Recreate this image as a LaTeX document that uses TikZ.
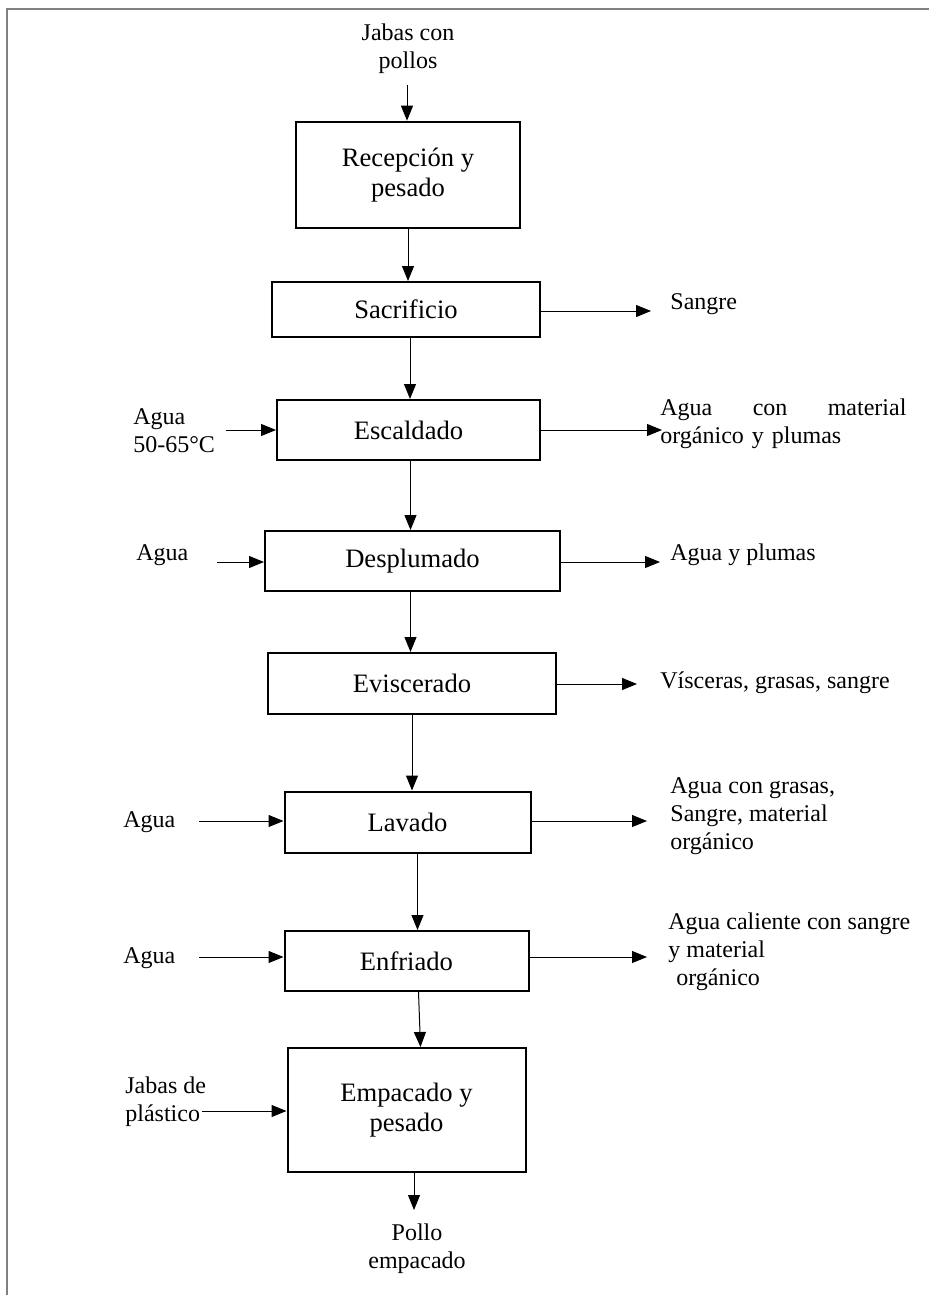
\documentclass[tikz,border=0pt]{standalone}
\usepackage{fontspec}
\setmainfont{Liberation Serif}
\usetikzlibrary{arrows.meta}

\tikzset{
  proc/.style={draw, line width=1pt, inner sep=2pt, align=center, font=\fontsize{13.3}{15}\selectfont},
  lbl/.style={inner sep=0pt, align=left, font=\fontsize{12}{14}\selectfont},
  flow/.style={line width=0.5pt, -{Triangle[length=7.5pt,width=6pt]}}
}

\begin{document}
\begin{tikzpicture}[x=0.5pt,y=-0.5pt]
	\useasboundingbox (0,0) rectangle (928,1295);
	%Frame
	\draw [gray, line width=1pt] (7,1300) -- (7,9) -- (930,9) ;

	%Process boxes
	\node [proc, line width=1.3pt, minimum width=112pt, minimum height=53pt] (rec) at (408,175) {Recepción y\\pesado};
	\node [proc, minimum width=134pt, minimum height=27.5pt] (sac) at (406,309.5) {Sacrificio};
	\node [proc, minimum width=131.5pt, minimum height=30pt] (esc) at (408.5,430) {Escaldado};
	\node [proc, minimum width=147.5pt, minimum height=30pt] (desp) at (412.5,561) {Desplumado};
	\node [proc, minimum width=144pt, minimum height=30.5pt] (evis) at (412,683.5) {Eviscerado};
	\node [proc, minimum width=123pt, minimum height=30.5pt] (lav) at (407.5,822) {Lavado};
	\node [proc, minimum width=122pt, minimum height=30pt] (enf) at (406.5,961) {Enfriado};
	\node [proc, minimum width=119pt, minimum height=62pt] (emp) at (406.5,1110) {Empacado y\\pesado};

	% Text Node
	\node [lbl, align=center] (jabas) at (408,49) {Jabas con\\pollos};
	\node [lbl, align=center] (pollo) at (417,1249) {Pollo\\empacado};
	\node [lbl, anchor=west] (aguaEsc) at (133,431) {Agua\\50-65°C};
	\node [lbl, anchor=west] (aguaDesp) at (136,555) {Agua};
	\node [lbl, anchor=west] (aguaLav) at (123,822) {Agua};
	\node [lbl, anchor=west] (aguaEnf) at (123,958) {Agua};
	\node [lbl, anchor=west] (jabasPl) at (125,1102) {Jabas de\\plástico};
	\node [lbl, anchor=west] (sangre) at (670,304) {Sangre};
	\node [lbl, anchor=west, text width=123pt] (resEsc) at (660,424) {Agua\hfill con\hfill material\\orgánico y plumas};
	\node [lbl, anchor=west] (resDesp) at (670,555) {Agua y plumas};
	\node [lbl, anchor=west] (resEvis) at (660,683) {Vísceras, grasas, sangre};
	\node [lbl, anchor=west] (resLav) at (670,816) {Agua con grasas,\\Sangre, material\\orgánico};
	\node [lbl, anchor=west] (resEnf) at (668,952) {Agua caliente con sangre\\y material\\\hspace*{4pt}orgánico};

	%Free ends
	\coordinate (inTop) at (407,85);
	\coordinate (outBot) at (414,1210);
	\coordinate (inEsc) at (226,430);
	\coordinate (inDesp) at (217,562);
	\coordinate (inLav) at (199,821);
	\coordinate (inEnf) at (199,957);
	\coordinate (inEmp) at (202,1111);
	\coordinate (outSac) at (651,311);
	\coordinate (outEsc) at (662,430);
	\coordinate (outDesp) at (660,562);
	\coordinate (outEvis) at (637,684);
	\coordinate (outLav) at (647,821);
	\coordinate (outEnf) at (647,957);

	%Main flow
	\draw [flow] (inTop) -- (inTop |- rec.north) ;
	\draw [flow] (rec.south) -- (rec.south |- sac.north) ;
	\draw [flow] ([xshift=2]sac.south) -- ([xshift=2]sac.south |- esc.north) ;
	\draw [flow] ([xshift=1]esc.south) -- ([xshift=1]esc.south |- desp.north) ;
	\draw [flow] ([xshift=-1]desp.south) -- ([xshift=-1]desp.south |- evis.north) ;
	\draw [flow] (evis.south) -- (evis.south |- lav.north) ;
	\draw [flow] ([xshift=5]lav.south) -- ([xshift=5]lav.south |- enf.north) ;
	\draw [flow] ([xshift=6]enf.south) -- ([xshift=7]enf.south |- emp.north) ;
	\draw [flow] (outBot |- emp.south) -- (outBot) ;

	%Inputs
	\draw [flow] (inEsc) -- (inEsc -| esc.west) ;
	\draw [flow] (inDesp) -- (inDesp -| desp.west) ;
	\draw [flow] (inLav) -- (inLav -| lav.west) ;
	\draw [flow] (inEnf) -- (inEnf -| enf.west) ;
	\draw [flow] (inEmp) -- (inEmp -| emp.west) ;

	%Outputs
	\draw [flow] (outSac -| sac.east) -- (outSac) ;
	\draw [flow] (outEsc -| esc.east) -- (outEsc) ;
	\draw [flow] (outDesp -| desp.east) -- (outDesp) ;
	\draw [flow] (outEvis -| evis.east) -- (outEvis) ;
	\draw [flow] (outLav -| lav.east) -- (outLav) ;
	\draw [flow] (outEnf -| enf.east) -- (outEnf) ;

\end{tikzpicture}
\end{document}
